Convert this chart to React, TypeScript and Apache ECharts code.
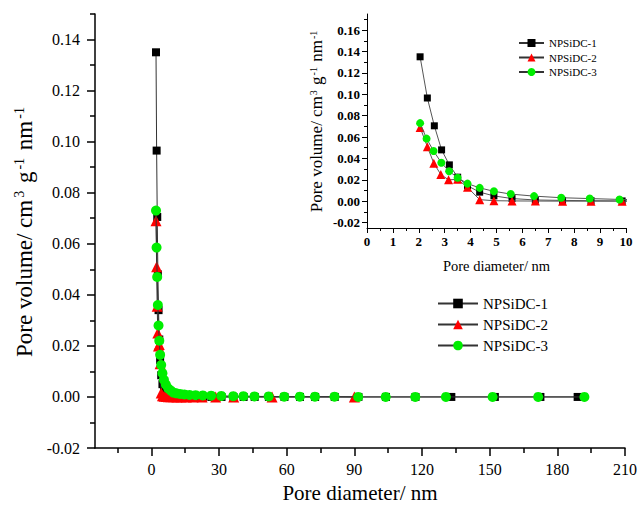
import React, { useEffect, useRef } from "react";
import * as echarts from "echarts";

const FONT = "Liberation Serif";

// Sample names
const names = ["NPSiDC-1", "NPSiDC-2", "NPSiDC-3"];

// NPSiDC-1 (black squares)
const d1 = [2.05, 2.33, 2.6, 2.88, 3.18, 3.5, 3.88, 4.35, 4.9, 5.6, 6.5, 7.55, 8.65, 9.85, 11.2, 12.8, 14.7, 17, 19.7, 22.9, 26.6, 31.1, 36.4, 40.9, 45.8, 52.1, 59, 65.9, 72.6, 81.3, 91.8, 104, 117.1, 133, 152.3, 172.5, 189];
const v1 = [0.135, 0.0965, 0.0705, 0.048, 0.034, 0.0225, 0.0145, 0.0085, 0.005, 0.0025, 0.0012, 0.0008, 0.0005, 0.0003, 0.0002, 0.0002, 0.0001, 0.0001, 0.0001, 0.0001, 0, 0, 0, 0, 0, 0, 0, 0, 0, 0, 0, 0, 0, 0, 0, 0, 0];

// NPSiDC-2 (red triangles)
const d2 = [2.05, 2.33, 2.58, 2.85, 3.15, 3.5, 3.88, 4.35, 4.9, 5.6, 6.5, 7.55, 8.65, 9.85, 11.3, 13.2, 15.5, 18.5, 22.5, 28.5, 36.5, 53.5, 90];
const v2 = [0.069, 0.051, 0.0355, 0.025, 0.02, 0.0205, 0.013, 0.0015, 0.0005, 0.0003, 0.0002, 0.0001, 0.0001, 0.0001, 0, 0, 0, 0, 0, 0, 0, 0, 0];

// NPSiDC-3 (green circles)
const d3 = [2.05, 2.3, 2.57, 2.87, 3.17, 3.5, 3.88, 4.35, 4.9, 5.55, 6.45, 7.5, 8.6, 9.75, 11.1, 12.7, 14.6, 16.9, 19.6, 22.8, 26.5, 31, 36.3, 40.8, 45.7, 52, 58.9, 65.8, 72.5, 81.2, 91.7, 103.9, 117, 130.6, 151.3, 171.5, 192];
const v3 = [0.073, 0.0585, 0.047, 0.036, 0.028, 0.022, 0.0165, 0.0125, 0.0093, 0.0067, 0.0048, 0.0033, 0.0025, 0.0017, 0.0014, 0.0012, 0.001, 0.0008, 0.0007, 0.0006, 0.0005, 0.0004, 0.0003, 0.0003, 0.0002, 0.0002, 0.0001, 0.0001, 0.0001, 0.0001, 0, 0, 0, 0, 0, 0, 0];

// Main axes ticks
const mainXLabels = [0, 30, 60, 90, 120, 150, 180, 210];
const mainXMinor = [-15, 15, 45, 75, 105, 135, 165, 195];
const mainYLabels = [-0.02, 0, 0.02, 0.04, 0.06, 0.08, 0.1, 0.12, 0.14];
const mainYMinor = [-0.01, 0.01, 0.03, 0.05, 0.07, 0.09, 0.11, 0.13, 0.15];

// Inset axes ticks
const insetYLabels = [-0.02, 0, 0.02, 0.04, 0.06, 0.08, 0.1, 0.12, 0.14, 0.16];
const insetYMinor = [-0.01, 0.01, 0.03, 0.05, 0.07, 0.09, 0.11, 0.13, 0.15, 0.17];

const symbols = ["rect", "triangle", "circle"];
const colors = ["#000000", "#ff0000", "#00ee00"];
const mainSizes = [8, 11, 10];
const insetSizes = [7, 9, 8];
const xs = [d1, d2, d3];
const ys = [v1, v2, v3];

const yName = "{a|Pore volume/ cm}{s|3}{a| g}{s|-1}{a| nm}{s|-1}";

function buildOption() {
  const series: any[] = [];
  [0, 1].forEach((g) => {
    names.forEach((n, i) => {
      series.push({
        type: "line",
        name: n,
        xAxisIndex: g === 0 ? 0 : 2,
        yAxisIndex: g === 0 ? 0 : 2,
        data: xs[i].map((x, k) => [x, ys[i][k]]),
        symbol: symbols[i],
        symbolSize: g === 0 ? mainSizes[i] : insetSizes[i],
        itemStyle: { color: colors[i] },
        lineStyle: { color: g === 0 ? "#333" : "#555", width: 1 },
        clip: true,
        silent: true,
        z: 2 + i,
        emphasis: { disabled: true },
      });
    });
  });

  const axisLine = (w: number) => ({ show: true, onZero: false, lineStyle: { color: "#000", width: w } });

  return {
    animation: false,
    backgroundColor: "#ffffff",
    textStyle: { fontFamily: FONT, color: "#000" },
    grid: [
      { left: 95, right: 15, top: 14, bottom: 60, outerBoundsMode: "none" },
      { left: 367, right: 14, top: 14, bottom: 280, outerBoundsMode: "none" },
    ],
    legend: [
      {
        data: names,
        orient: "vertical",
        left: 437,
        top: 296,
        padding: 0,
        itemWidth: 40,
        itemHeight: 12,
        itemGap: 6,
        textStyle: { fontFamily: FONT, fontSize: 15, color: "#000" },
        selectedMode: false,
      },
      {
        data: names,
        orient: "vertical",
        left: 518,
        top: 37.5,
        padding: 0,
        itemWidth: 25,
        itemHeight: 10,
        itemGap: 3.5,
        textStyle: { fontFamily: FONT, fontSize: 11, color: "#000" },
        selectedMode: false,
      },
    ],
    xAxis: [
      {
        type: "value",
        gridIndex: 0,
        min: -25,
        max: 210,
        axisLine: axisLine(1.5),
        axisTick: { show: true, length: 8, customValues: mainXLabels, lineStyle: { color: "#000", width: 1.5 } },
        axisLabel: { customValues: mainXLabels, margin: 13, fontFamily: FONT, fontSize: 16, color: "#000" },
        splitLine: { show: false },
        name: "Pore diameter/ nm",
        nameLocation: "middle",
        nameGap: 34,
        nameTextStyle: { fontFamily: FONT, fontSize: 21, color: "#000" },
      },
      {
        type: "value",
        gridIndex: 0,
        position: "bottom",
        min: -25,
        max: 210,
        axisLine: { show: false, onZero: false },
        axisTick: { show: true, length: 5, customValues: mainXMinor, lineStyle: { color: "#000", width: 1.5 } },
        axisLabel: { show: false },
        splitLine: { show: false },
      },
      {
        type: "value",
        gridIndex: 1,
        min: 0,
        max: 10,
        interval: 1,
        axisLine: axisLine(1),
        axisTick: { show: true, length: 5, lineStyle: { color: "#000", width: 1 } },
        minorTick: { show: true, splitNumber: 2, length: 3, lineStyle: { color: "#000", width: 1 } },
        axisLabel: { margin: 7, fontFamily: FONT, fontSize: 13, fontWeight: "bold", color: "#000" },
        splitLine: { show: false },
        minorSplitLine: { show: false },
        name: "Pore diameter/ nm",
        nameLocation: "middle",
        nameGap: 30,
        nameTextStyle: { fontFamily: FONT, fontSize: 14.5, color: "#000" },
      },
    ],
    yAxis: [
      {
        type: "value",
        gridIndex: 0,
        min: -0.02,
        max: 0.15,
        axisLine: axisLine(1.5),
        axisTick: { show: true, length: 8, customValues: mainYLabels, lineStyle: { color: "#000", width: 1.5 } },
        axisLabel: {
          customValues: mainYLabels,
          margin: 15,
          fontFamily: FONT,
          fontSize: 16,
          color: "#000",
          formatter: (v: number) => v.toFixed(2),
        },
        splitLine: { show: false },
        name: yName,
        nameLocation: "middle",
        nameRotate: 90,
        nameGap: 52,
        nameTextStyle: {
          fontFamily: FONT,
          fontSize: 23,
          color: "#000",
          rich: {
            a: { fontFamily: FONT, fontSize: 23, color: "#000" },
            s: { fontFamily: FONT, fontSize: 14, color: "#000", verticalAlign: "top", padding: [0, 2, 0, 2] },
          },
        },
      },
      {
        type: "value",
        gridIndex: 0,
        position: "left",
        min: -0.02,
        max: 0.15,
        axisLine: { show: false, onZero: false },
        axisTick: { show: true, length: 5, customValues: mainYMinor, lineStyle: { color: "#000", width: 1.5 } },
        axisLabel: { show: false },
        splitLine: { show: false },
      },
      {
        type: "value",
        gridIndex: 1,
        min: -0.025,
        max: 0.175,
        axisLine: axisLine(1),
        axisTick: { show: true, length: 5, customValues: insetYLabels, lineStyle: { color: "#000", width: 1 } },
        axisLabel: {
          customValues: insetYLabels,
          margin: 7,
          fontFamily: FONT,
          fontSize: 13,
          fontWeight: "bold",
          color: "#000",
          formatter: (v: number) => v.toFixed(2),
        },
        splitLine: { show: false },
        name: yName,
        nameLocation: "middle",
        nameRotate: 90,
        nameGap: 42,
        nameTextStyle: {
          fontFamily: FONT,
          fontSize: 17,
          color: "#000",
          rich: {
            a: { fontFamily: FONT, fontSize: 17, color: "#000" },
            s: { fontFamily: FONT, fontSize: 10, color: "#000", verticalAlign: "top", padding: [0, 1, 0, 1] },
          },
        },
      },
      {
        type: "value",
        gridIndex: 1,
        position: "left",
        min: -0.025,
        max: 0.175,
        axisLine: { show: false, onZero: false },
        axisTick: { show: true, length: 3, customValues: insetYMinor, lineStyle: { color: "#000", width: 1 } },
        axisLabel: { show: false },
        splitLine: { show: false },
      },
    ],
    series,
  };
}

export default function App() {
  const ref = useRef<HTMLDivElement>(null);
  useEffect(() => {
    if (!ref.current) return;
    const chart = echarts.init(ref.current, null, { renderer: "svg" });
    chart.setOption(buildOption() as any);
    return () => chart.dispose();
  }, []);
  return (
    <div
      ref={ref}
      style={{ position: "fixed", left: 0, top: 0, width: 640, height: 508, background: "#fff" }}
    />
  );
}
